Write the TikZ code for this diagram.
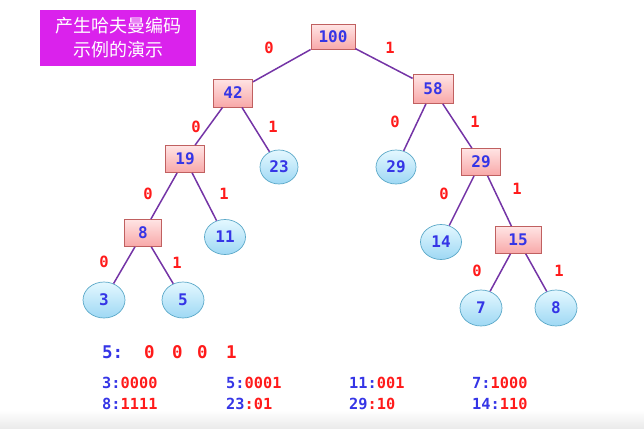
\documentclass[tikz,border=0pt]{standalone}
\usepackage{fontspec}
\newfontfamily\cjk{Noto Sans CJK SC}
\newfontfamily\mono{DejaVu Sans Mono}
\usetikzlibrary{shapes.geometric}
\definecolor{nblue}{HTML}{3535E6}
\definecolor{nred}{HTML}{FF1A1A}
\definecolor{edgec}{HTML}{7434A6}
\definecolor{titlec}{HTML}{DA22EC}
\definecolor{boxborder}{HTML}{C06060}
\definecolor{boxtop}{HTML}{FFE4E4}
\definecolor{boxbot}{HTML}{F8A8A8}
\definecolor{leafborder}{HTML}{5AA8C8}
\definecolor{leaftop}{HTML}{E4F8FF}
\definecolor{leafbot}{HTML}{9ED8F4}
\begin{document}
\begin{tikzpicture}[x=1pt,y=-1pt,
  inner/.style={draw=boxborder, line width=0.8pt, top color=boxtop, bottom color=boxbot,
    minimum width=39pt, minimum height=27pt, inner sep=2pt,
    font=\mono\bfseries\fontsize{16}{16}\selectfont, text=nblue},
  leaf/.style={ellipse, draw=leafborder, line width=0.7pt, top color=leaftop, bottom color=leafbot,
    minimum width=41pt, minimum height=35pt, inner sep=0pt,
    font=\mono\bfseries\fontsize{16}{16}\selectfont, text=nblue},
  conn/.style={draw=edgec, line width=1.5pt},
  bit/.style={font=\mono\bfseries\fontsize{15.5}{15}\selectfont, text=nred},
  code/.style={anchor=west, font=\mono\bfseries\fontsize{15.3}{15}\selectfont, inner sep=0pt},
  big/.style={anchor=west, font=\mono\bfseries\fontsize{17.5}{17}\selectfont, inner sep=0pt}
]
\useasboundingbox (0,0) rectangle (644,428);
\shade[top color=white, bottom color=black!8] (0,410) rectangle (644,428);

% title
\node[fill=titlec, minimum width=156pt, minimum height=56pt, text=white, align=center,
  font=\cjk\fontsize{18}{24}\selectfont] (title) at (118,38) {产生哈夫曼编码\\示例的演示};

% nodes
\node[inner, minimum width=44pt, minimum height=25pt] (n100) at (333,37) {100};
\node[inner, minimum height=28pt] (n42) at (233,93) {42};
\node[inner, minimum height=29pt, minimum width=40pt] (n58) at (433,89) {58};
\node[inner] (n19) at (185,159) {19};
\node[leaf, minimum width=38pt, minimum height=34pt] (l23) at (279,167) {23};
\node[leaf, minimum width=40pt, minimum height=34pt] (l29) at (396,167) {29};
\node[inner] (n29) at (481,162) {29};
\node[inner, minimum width=37pt] (n8) at (143,233) {8};
\node[leaf] (l11) at (225,237) {11};
\node[leaf] (l14) at (441,242) {14};
\node[inner, minimum width=46pt] (n15) at (518,240) {15};
\node[leaf, minimum width=42pt, minimum height=36pt] (l3) at (104,300) {3};
\node[leaf, minimum width=42pt, minimum height=36pt] (l5) at (183,300) {5};
\node[leaf, minimum width=42pt, minimum height=36pt] (l7) at (481,308) {7};
\node[leaf, minimum width=42pt, minimum height=36pt] (l8) at (556,308) {8};

% edges
\draw[conn] (n100) -- (n42);
\draw[conn] (n100) -- (n58);
\draw[conn] (n42) -- (n19);
\draw[conn] (n42) -- (l23);
\draw[conn] (n58) -- (l29);
\draw[conn] (n58) -- (n29);
\draw[conn] (n19) -- (n8);
\draw[conn] (n19) -- (l11);
\draw[conn] (n29) -- (l14);
\draw[conn] (n29) -- (n15);
\draw[conn] (n8) -- (l3);
\draw[conn] (n8) -- (l5);
\draw[conn] (n15) -- (l7);
\draw[conn] (n15) -- (l8);

% edge labels
\node[bit] (b1) at (269,48) {0};
\node[bit] (b2) at (390,48) {1};
\node[bit] (b3) at (196,127) {0};
\node[bit] (b4) at (273,127) {1};
\node[bit] (b5) at (395,122) {0};
\node[bit] (b6) at (475,122) {1};
\node[bit] (b7) at (148,194) {0};
\node[bit] (b8) at (224,194) {1};
\node[bit] (b9) at (444,194) {0};
\node[bit] (b10) at (517,189) {1};
\node[bit] (b11) at (104,262) {0};
\node[bit] (b12) at (177,263) {1};
\node[bit] (b13) at (477,271) {0};
\node[bit] (b14) at (559,271) {1};

% example code
\node[big, text=nblue] (ex) at (102,352) {5:};
\node[big, text=nred] (e1) at (144,352) {0};
\node[big, text=nred] (e2) at (172,352) {0};
\node[big, text=nred] (e3) at (197,352) {0};
\node[big, text=nred] (e4) at (226,352) {1};

% code table
\node[code] (c1) at (102,383) {\textcolor{nblue}{3:}\textcolor{nred}{0000}};
\node[code] (c2) at (226,383) {\textcolor{nblue}{5:}\textcolor{nred}{0001}};
\node[code] (c3) at (349,383) {\textcolor{nblue}{11:}\textcolor{nred}{001}};
\node[code] (c4) at (472,383) {\textcolor{nblue}{7:}\textcolor{nred}{1000}};
\node[code] (c5) at (102,404) {\textcolor{nblue}{8:}\textcolor{nred}{1111}};
\node[code] (c6) at (226,404) {\textcolor{nblue}{23}\textcolor{nred}{:01}};
\node[code] (c7) at (349,404) {\textcolor{nblue}{29}\textcolor{nred}{:10}};
\node[code] (c8) at (472,404) {\textcolor{nblue}{14:}\textcolor{nred}{110}};
\end{tikzpicture}
\end{document}
